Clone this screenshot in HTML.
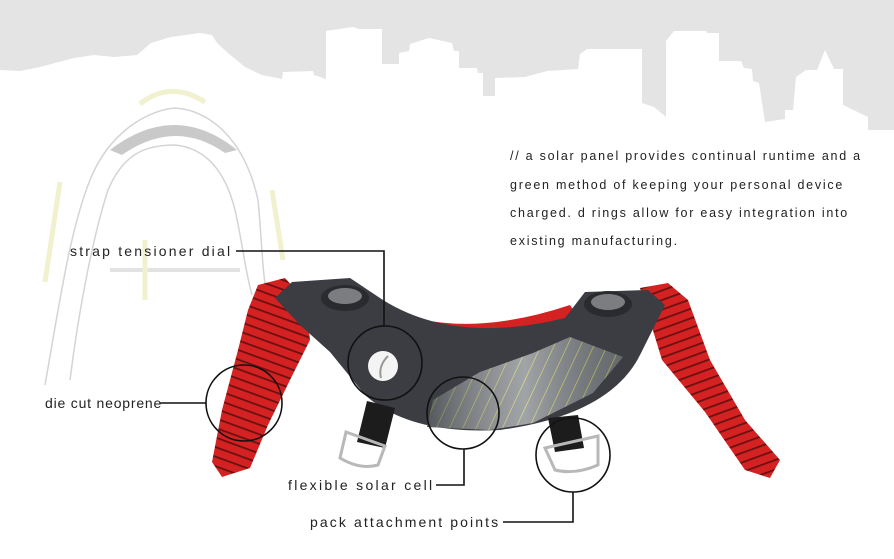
<!DOCTYPE html>
<html><head><meta charset="utf-8"><style>
html,body{margin:0;padding:0;background:#fff}
svg{display:block}
text{font-family:"Liberation Sans",sans-serif;fill:#222}
</style></head><body>
<svg width="894" height="559" viewBox="0 0 894 559" xmlns="http://www.w3.org/2000/svg">
<defs>
<pattern id="hatch" width="12" height="12" patternUnits="userSpaceOnUse" patternTransform="rotate(25)">
<rect width="12" height="12" fill="#6f7378"/>
<line x1="0" y1="0" x2="0" y2="12" stroke="#d8d84a" stroke-width="1.3"/>
</pattern>
<linearGradient id="sol" x1="0" y1="0" x2="1" y2="0">
<stop offset="0" stop-color="#3a3c40" stop-opacity="0.5"/>
<stop offset="0.5" stop-color="#ffffff" stop-opacity="0.35"/>
<stop offset="1" stop-color="#3a3c40" stop-opacity="0.2"/>
</linearGradient>
<pattern id="slots" width="10" height="9" patternUnits="userSpaceOnUse" patternTransform="rotate(20)">
<rect width="10" height="9" fill="#d42222"/>
<rect x="0" y="3.5" width="10" height="1.8" fill="#6a1010"/>
</pattern>
<pattern id="slots2" width="10" height="9" patternUnits="userSpaceOnUse" patternTransform="rotate(-20)">
<rect width="10" height="9" fill="#d42222"/>
<rect x="0" y="3.5" width="10" height="1.8" fill="#6a1010"/>
</pattern>
</defs>
<path fill="#e4e4e4" d="M0,0 H894 V130 L868,130 L868,117 L843,105 L843,69 L834,69 L825,50 L817,70 L806,70 L796,77 L793,110 L785,110 L785,119 L765,122 L759,83 L753,81 L752,69 L744,68 L741,61 L719,61 L719,33 L707,33 L706,31 L674,31 L666,41 L666,117 L654,107 L642,103 L642,49 L587,49 L580,54 L578,69 L547,71 L525,77 L495,78 L495,96 L483,96 L483,73 L478,73 L477,68 L459,68 L459,51 L454,51 L452,43 L429,38 L410,44 L409,51 L399,53 L399,64 L382,64 L382,29 L359,29 L353,27 L326,31 L326,79 L314,75 L313,71 L283,72 L282,79 L262,75 L245,67 L228,53 L217,43 L212,35 L200,33 L171,37 L151,43 L137,55 L114,57 L94,55 L74,58 L40,67 L20,71 L0,70 Z"/>
<g fill="none" stroke="#d4d4d4" stroke-width="1.5">
<path d="M45,385 C60,300 70,230 90,180 C110,130 150,110 175,108 C210,110 245,140 258,200 C262,240 262,275 268,300"/>
<path d="M70,380 C80,300 95,230 108,190 C125,150 150,145 175,145 C205,148 225,170 235,210 C242,240 245,270 252,295"/>
<path d="M110,270 H240" stroke-width="4" stroke="#e2e2e2"/>
</g>
<path d="M110,150 Q175,100 237,150 L225,153 Q175,118 122,155 Z" fill="#c9c9c9"/>
<g stroke="#f1f1cf" stroke-width="5" fill="none">
<path d="M140,104 Q170,80 205,102"/>
<path d="M60,182 L45,282"/><path d="M272,190 L283,260"/><path d="M145,240 L145,300"/>
</g>
<path fill="url(#slots)" d="M258,285 L285,278 L305,300 L310,340 L290,380 L268,425 L250,468 L222,477 L212,462 L222,410 L238,350 L248,310 Z"/>
<path fill="url(#slots2)" d="M640,288 L668,283 L688,300 L710,360 L745,420 L780,460 L770,478 L745,470 L705,412 L662,360 Z"/>
<path fill="#d42222" d="M370,300 Q450,345 570,305 L580,320 Q460,370 360,320 Z"/>
<path fill="#3b3d42" d="M275,298 L292,282 L350,278 L383,300 Q455,345 565,318 L585,292 L648,290 L665,305 L640,355 Q610,415 500,430 Q410,435 365,395 L330,352 L300,325 Z"/>
<path fill="url(#hatch)" d="M433,400 L480,372 L533,353 L570,337 L623,357 L593,393 L533,423 L490,430 L427,427 Z"/>
<path fill="url(#sol)" d="M433,400 L480,372 L533,353 L570,337 L623,357 L593,393 L533,423 L490,430 L427,427 Z"/>
<ellipse cx="345" cy="298" rx="24" ry="13" fill="#2a2b2e"/>
<ellipse cx="345" cy="296" rx="17" ry="8" fill="#7b7d80"/>
<ellipse cx="608" cy="304" rx="24" ry="13" fill="#2a2b2e"/>
<ellipse cx="608" cy="302" rx="17" ry="8" fill="#7b7d80"/>
<circle cx="383" cy="366" r="15" fill="#f4f4f4"/>
<path d="M388,356 Q378,366 381,378" stroke="#999" stroke-width="2" fill="none"/>
<path fill="#1c1c1c" d="M367,401 L395,408 L385,448 L357,442 Z"/>
<path fill="none" stroke="#b8b8b8" stroke-width="3" d="M346,432 L385,446 L378,465 Q360,470 340,458 Z"/>
<path fill="#1c1c1c" d="M548,418 L578,415 L584,448 L555,452 Z"/>
<path fill="none" stroke="#b8b8b8" stroke-width="3" d="M545,448 L598,436 L598,465 Q575,475 555,470 Z"/>
<g fill="none" stroke="#111" stroke-width="1.6">
<circle cx="385" cy="363" r="37"/>
<circle cx="244" cy="403" r="38"/>
<circle cx="463" cy="413" r="36"/>
<circle cx="573" cy="455" r="37"/>
<path d="M236,251 H384 V326"/>
<path d="M160,403 H206"/>
<path d="M436,485 H464 V449"/>
<path d="M503,522 H573 V492"/>
</g>
<g font-size="14">
<text x="70" y="256" letter-spacing="2.2">strap tensioner dial</text>
<text x="45" y="408" letter-spacing="0.8">die cut neoprene</text>
<text x="288" y="490" letter-spacing="2.3">flexible solar cell</text>
<text x="310" y="527" letter-spacing="2.1">pack attachment points</text>
</g>
<g font-size="12.5" letter-spacing="1.75">
<text x="510" y="160">// a solar panel provides continual runtime and a</text>
<text x="510" y="189">green method of keeping your personal device</text>
<text x="510" y="217">charged. d rings allow for easy integration into</text>
<text x="510" y="245">existing manufacturing.</text>
</g>
</svg>
</body></html>
